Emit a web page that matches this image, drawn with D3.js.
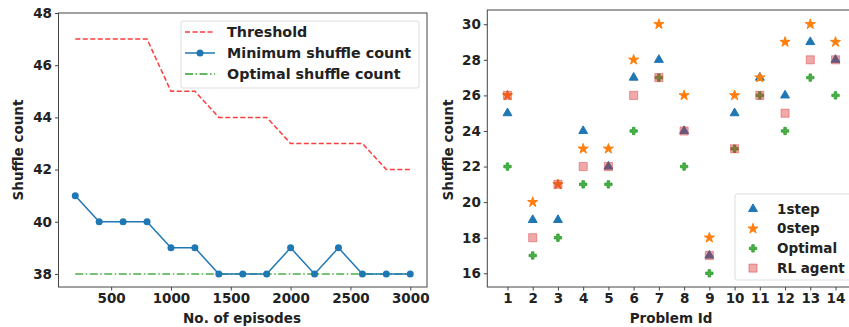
<!DOCTYPE html>
<html>
<head>
<meta charset="utf-8">
<script src="https://cdn.jsdelivr.net/npm/d3@7"></script>
<style>
  body { margin: 0; background: #fff; }
  svg text { font-family: "DejaVu Sans", sans-serif; font-weight: bold; fill: #222; }
</style>
</head>
<body>
<svg width="849" height="327"></svg>
<script>
// left chart data
const episodes = [200, 400, 600, 800, 1000, 1200, 1400, 1600, 1800, 2000, 2200, 2400, 2600, 2800, 3000];
const threshold = [47, 47, 47, 47, 45, 45, 44, 44, 44, 43, 43, 43, 43, 42, 42];
const minShuffle = [41, 40, 40, 40, 39, 39, 38, 38, 38, 39, 38, 39, 38, 38, 38];
const optimalShuffle = [38, 38, 38, 38, 38, 38, 38, 38, 38, 38, 38, 38, 38, 38, 38];
const leftXTicks = [500, 1000, 1500, 2000, 2500, 3000];
const leftYTicks = [38, 40, 42, 44, 46, 48];

// right chart data
const problems = [1, 2, 3, 4, 5, 6, 7, 8, 9, 10, 11, 12, 13, 14];
const oneStep = [25, 19, 19, 24, 22, 27, 28, 24, 17, 25, 27, 26, 29, 28];
const zeroStep = [26, 20, 21, 23, 23, 28, 30, 26, 18, 26, 27, 29, 30, 29];
const optimal = [22, 17, 18, 21, 21, 24, 27, 22, 16, 23, 26, 24, 27, 26];
const rlAgent = [26, 18, 21, 22, 22, 26, 27, 24, 17, 23, 26, 25, 28, 28];
const rightYTicks = [16, 18, 20, 22, 24, 26, 28, 30];

const svg = d3.select('svg');
const blue = '#1f77b4', orange = '#ff7f0e', green = '#2ca02c', red = '#d62728';
const fs = 13.5;

function styleAxis(g) {
	g.select('.domain').remove();
	g.selectAll('.tick line').attr('stroke', '#444');
	g.selectAll('.tick text').attr('font-size', fs).attr('fill', '#222')
		.attr('font-family', '"DejaVu Sans", sans-serif').attr('font-weight', 'bold');
}

// ---------- left chart ----------
const lx = d3.scaleLinear().domain([60, 3140]).range([58.5, 427]);
const ly = d3.scaleLinear().domain([37.5, 48]).range([287, 13]);
const left = svg.append('g');

left.append('g').attr('transform', 'translate(0,287)')
	.call(d3.axisBottom(lx).tickValues(leftXTicks).tickFormat(d3.format('d')).tickSize(3.5).tickPadding(3))
	.call(styleAxis);
left.append('g').attr('transform', 'translate(58.5,0)')
	.call(d3.axisLeft(ly).tickValues(leftYTicks).tickSize(3.5).tickPadding(3))
	.call(styleAxis);

const thrLine = d3.line().x((d, i) => lx(episodes[i])).y(d => ly(d));
left.append('path').datum(threshold).attr('d', thrLine)
	.attr('fill', 'none').attr('stroke', '#ff3c3c').attr('stroke-width', 1.5).attr('stroke-dasharray', '5,2.5');
left.append('path').datum(optimalShuffle).attr('d', thrLine)
	.attr('fill', 'none').attr('stroke', green).attr('stroke-opacity', 0.85).attr('stroke-width', 1.5).attr('stroke-dasharray', '8,2.5,1.5,2.5');
left.append('path').datum(minShuffle).attr('d', thrLine)
	.attr('fill', 'none').attr('stroke', blue).attr('stroke-width', 1.5);
left.selectAll('circle.min').data(minShuffle).join('circle').attr('class', 'min')
	.attr('cx', (d, i) => lx(episodes[i])).attr('cy', d => ly(d)).attr('r', 3.5).attr('fill', blue);

left.append('rect').attr('x', 58.5).attr('y', 13).attr('width', 427 - 58.5).attr('height', 287 - 13)
	.attr('fill', 'none').attr('stroke', '#444').attr('stroke-width', 1);

// legend
const lleg = left.append('g').attr('transform', 'translate(181,21)');
lleg.append('rect').attr('width', 238).attr('height', 67).attr('rx', 2)
	.attr('fill', '#fff').attr('fill-opacity', 0.8).attr('stroke', '#ddd');
const lItems = [
	{ label: 'Threshold', color: '#ff3c3c', dash: '5,2.5', dot: false },
	{ label: 'Minimum shuffle count', color: blue, dash: null, dot: true },
	{ label: 'Optimal shuffle count', color: green, dash: '8,2.5,1.5,2.5', dot: false }
];
lItems.forEach((it, i) => {
	const y = 11 + i * 21;
	lleg.append('line').attr('x1', 4).attr('x2', 34).attr('y1', y).attr('y2', y)
		.attr('stroke', it.color).attr('stroke-width', 1.5).attr('stroke-dasharray', it.dash);
	if (it.dot) lleg.append('circle').attr('cx', 19).attr('cy', y).attr('r', 3.5).attr('fill', it.color);
	lleg.append('text').attr('x', 46).attr('y', y).attr('dy', '0.35em').attr('font-size', 14.3).text(it.label);
});

left.append('text').attr('x', 242).attr('y', 323).attr('text-anchor', 'middle').attr('font-size', fs).text('No. of episodes');
left.append('text').attr('transform', 'translate(23,150) rotate(-90)').attr('text-anchor', 'middle').attr('font-size', fs).text('Shuffle count');

// ---------- right chart ----------
const rx = d3.scaleLinear().domain([0.2, 14.8]).range([487.3, 855.7]);
const ry = d3.scaleLinear().domain([15.23, 30.8]).range([287, 10]);
const right = svg.append('g');

right.append('g').attr('transform', 'translate(0,287)')
	.call(d3.axisBottom(rx).tickValues(problems).tickFormat(d3.format('d')).tickSize(3.5).tickPadding(3))
	.call(styleAxis);
right.append('g').attr('transform', 'translate(487.3,0)')
	.call(d3.axisLeft(ry).tickValues(rightYTicks).tickSize(3.5).tickPadding(3))
	.call(styleAxis);

const triangle = d3.symbol().type(d3.symbolTriangle).size(34);
const star = d3.symbol().type(d3.symbolStar).size(32);
const plus = d3.symbol().type(d3.symbolCross).size(30);
const square = d3.symbol().type(d3.symbolSquare).size(66);

function scatter(vals, sym, color, opacity, cls) {
	right.selectAll('path.' + cls).data(vals).join('path').attr('class', cls)
		.attr('transform', (d, i) => 'translate(' + rx(problems[i]) + ',' + ry(d) + ')')
		.attr('d', sym).attr('fill', color).attr('fill-opacity', opacity)
		.attr('stroke', color).attr('stroke-opacity', opacity).attr('stroke-width', 1);
}
scatter(oneStep, triangle, blue, 1, 'one');
scatter(zeroStep, star, orange, 1, 'zero');
scatter(optimal, plus, green, 0.85, 'opt');
scatter(rlAgent, square, red, 0.4, 'rl');

right.append('rect').attr('x', 487.3).attr('y', 10).attr('width', 855.7 - 487.3).attr('height', 277)
	.attr('fill', 'none').attr('stroke', '#444').attr('stroke-width', 1);

const rleg = right.append('g').attr('transform', 'translate(735,194)');
rleg.append('rect').attr('width', 120).attr('height', 86).attr('rx', 2)
	.attr('fill', '#fff').attr('fill-opacity', 0.8).attr('stroke', '#ddd');
const rItems = [
	{ label: '1step', sym: triangle, color: blue, op: 1 },
	{ label: '0step', sym: star, color: orange, op: 1 },
	{ label: 'Optimal', sym: plus, color: green, op: 0.85 },
	{ label: 'RL agent', sym: square, color: red, op: 0.4 }
];
rItems.forEach((it, i) => {
	const y = 15 + i * 19.7;
	rleg.append('path').attr('transform', 'translate(18,' + y + ')').attr('d', it.sym)
		.attr('fill', it.color).attr('fill-opacity', it.op)
		.attr('stroke', it.color).attr('stroke-opacity', it.op).attr('stroke-width', 1);
	rleg.append('text').attr('x', 42).attr('y', y).attr('dy', '0.35em').attr('font-size', fs).text(it.label);
});

right.append('text').attr('x', 671).attr('y', 323).attr('text-anchor', 'middle').attr('font-size', fs).text('Problem Id');
right.append('text').attr('transform', 'translate(453,150) rotate(-90)').attr('text-anchor', 'middle').attr('font-size', fs).text('Shuffle count');
</script>
</body>
</html>
